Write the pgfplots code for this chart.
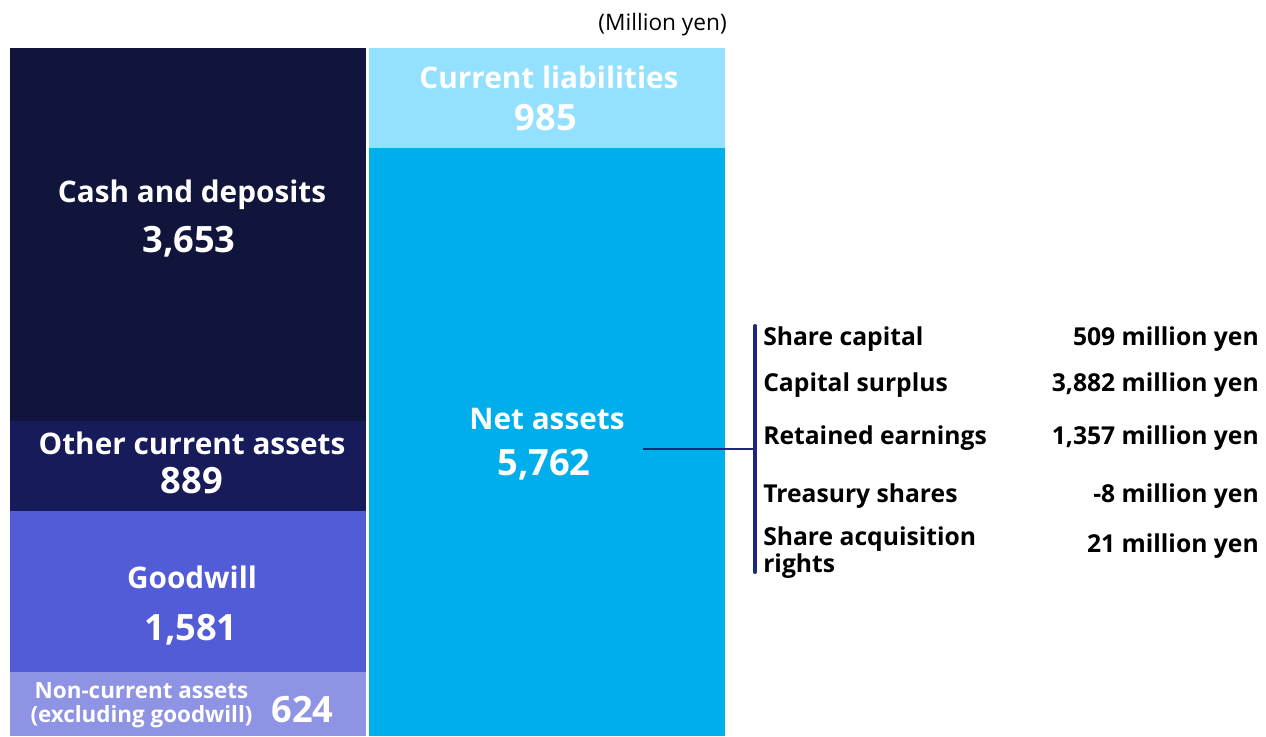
\documentclass[border=0pt]{standalone}
\usepackage{fontspec}
\setmainfont{Open Sans}
\usepackage{pgfplots}
\pgfplotsset{compat=1.18}
\definecolor{cCash}{RGB}{18,21,59}
\definecolor{cOther}{RGB}{24,27,90}
\definecolor{cGood}{RGB}{82,92,214}
\definecolor{cNonc}{RGB}{142,147,228}
\definecolor{cLiab}{RGB}{148,225,255}
\definecolor{cNet}{RGB}{0,174,235}
\definecolor{cBr}{RGB}{30,40,122}
\newcommand{\lab}{\fontsize{22.3pt}{24pt}\selectfont\bfseries}
\newcommand{\num}{\fontsize{27.2pt}{29pt}\selectfont\bfseries}
\newcommand{\sml}{\fontsize{16.8pt}{18pt}\selectfont\bfseries}
\newcommand{\lst}{\fontsize{18.5pt}{20pt}\selectfont\bfseries}
\begin{document}
\begin{tikzpicture}[every node/.style={inner sep=0pt}]
\path (0,0) rectangle (949.5pt,552pt);
\begin{axis}[
  at={(7.5pt,0pt)}, anchor=south west,
  scale only axis, width=536.25pt, height=516pt,
  xmin=10, xmax=725, ymin=0, ymax=6747,
  hide axis, clip=false,
  ybar stacked, bar width=356,
  every axis plot/.append style={draw=none},
]
\addplot[fill=cNonc] coordinates {(188,624) (546.5,0)};
\addplot[fill=cGood] coordinates {(188,1581) (546.5,0)};
\addplot[fill=cOther] coordinates {(188,889) (546.5,0)};
\addplot[fill=cCash] coordinates {(188,3653) (546.5,0)};
\addplot[fill=cNet] coordinates {(188,0) (546.5,5762)};
\addplot[fill=cLiab] coordinates {(188,0) (546.5,985)};
\coordinate (l1) at (axis cs:192,5227);
\coordinate (l2) at (axis cs:189,4737);
\coordinate (l3) at (axis cs:192,2756);
\coordinate (l4) at (axis cs:192,2383);
\coordinate (l5) at (axis cs:192,1451);
\coordinate (l6) at (axis cs:191,941);
\coordinate (l7) at (axis cs:141.5,363);
\coordinate (l8) at (axis cs:141.5,128);
\coordinate (l9) at (axis cs:302.5,128);
\coordinate (r1) at (axis cs:549,6345);
\coordinate (r2) at (axis cs:546,5933);
\coordinate (r3) at (axis cs:547,3001);
\coordinate (r4) at (axis cs:544,2550);
\coordinate (my) at (axis cs:727,6914);
\coordinate (h1) at (axis cs:643,2815);
\coordinate (h2) at (axis cs:755,2815);
\coordinate (v1) at (axis cs:755,4021);
\coordinate (v2) at (axis cs:755,1608);
\coordinate (t1) at (axis cs:763,3825);
\coordinate (t2) at (axis cs:763,3383);
\coordinate (t3) at (axis cs:763,2854);
\coordinate (t4) at (axis cs:763,2285);
\coordinate (t5) at (axis cs:763,1873);
\coordinate (t6) at (axis cs:763,1608);
\coordinate (u1) at (axis cs:1259,3825);
\coordinate (u2) at (axis cs:1259,3383);
\coordinate (u3) at (axis cs:1259,2854);
\coordinate (u4) at (axis cs:1259,2285);
\coordinate (u5) at (axis cs:1259,1804);
\end{axis}
% bar labels
\node[anchor=base,white] at (l1) {\lab Cash and deposits};
\node[anchor=base,white] at (l2) {\num 3,653};
\node[anchor=base,white] at (l3) {\lab Other current assets};
\node[anchor=base,white] at (l4) {\num 889};
\node[anchor=base,white] at (l5) {\lab Goodwill};
\node[anchor=base,white] at (l6) {\num 1,581};
\node[anchor=base,white] at (l7) {\sml Non-current assets};
\node[anchor=base,white] at (l8) {\sml (excluding goodwill)};
\node[anchor=base,white] at (l9) {\num 624};
\node[anchor=base,white] at (r1) {\lab Current liabilities};
\node[anchor=base,white] at (r2) {\num 985};
\node[anchor=base,white] at (r3) {\lab Net assets};
\node[anchor=base,white] at (r4) {\num 5,762};
\node[anchor=base east,black] at (my) {\fontsize{17pt}{19pt}\selectfont (Million yen)};
% bracket
\draw[cBr,line width=1.2pt] (h1) -- (h2);
\draw[cBr,line width=3pt,line cap=round] (v1) -- (v2);
\node[anchor=base west] at (t1) {\lst Share capital};
\node[anchor=base west] at (t2) {\lst Capital surplus};
\node[anchor=base west] at (t3) {\lst Retained earnings};
\node[anchor=base west] at (t4) {\lst Treasury shares};
\node[anchor=base west] at (t5) {\lst Share acquisition};
\node[anchor=base west] at (t6) {\lst rights};
\node[anchor=base east] at (u1) {\lst 509 million yen};
\node[anchor=base east] at (u2) {\lst 3,882 million yen};
\node[anchor=base east] at (u3) {\lst 1,357 million yen};
\node[anchor=base east] at (u4) {\lst -8 million yen};
\node[anchor=base east] at (u5) {\lst 21 million yen};
\end{tikzpicture}
\end{document}
